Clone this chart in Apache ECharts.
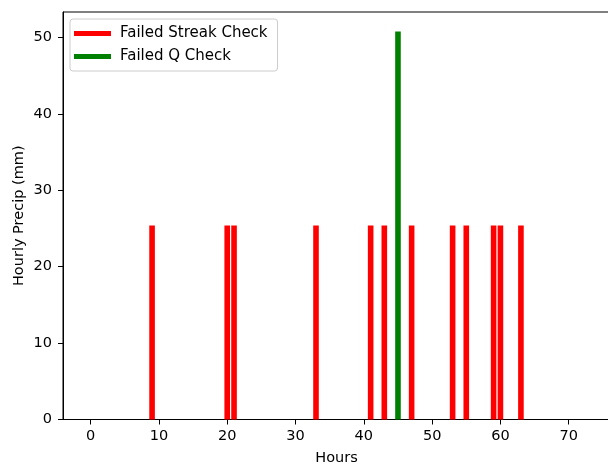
<!DOCTYPE html>
<html>
<head>
<meta charset="utf-8">
<script src="https://cdn.jsdelivr.net/npm/echarts@6/dist/echarts.min.js"></script>
<style>html,body{margin:0;padding:0;background:#fff}#c{width:608px;height:463px}</style>
</head>
<body>
<div id="c"></div>
<script>
const streakHours = [9, 20, 21, 33, 41, 43, 47, 53, 55, 59, 60, 63];
const streakValues = [25.4, 25.4, 25.4, 25.4, 25.4, 25.4, 25.4, 25.4, 25.4, 25.4, 25.4, 25.4];
const qHours = [45];
const qValues = [50.8];
const xTicks = [0, 10, 20, 30, 40, 50, 60, 70];
const yTicks = [0, 10, 20, 30, 40, 50];

const font = 'DejaVu Sans';
const fs = 14.5;
const chart = echarts.init(document.getElementById('c'), null, {renderer: 'canvas'});
chart.setOption({
  animation: false,
  backgroundColor: '#fff',
  grid: {left: 63, top: 12, width: 547, height: 407.5, show: true, borderColor: '#000', borderWidth: 1,
         backgroundColor: 'transparent', outerBoundsMode: 'none', containLabel: false},
  legend: {
    orient: 'vertical', left: 70, top: 19,
    backgroundColor: 'rgba(255,255,255,0.8)',
    borderColor: '#ccc', borderWidth: 1, borderRadius: 3,
    padding: [7, 10, 7, 4],
    itemWidth: 37, itemHeight: 5, itemGap: 8, icon: 'rect',
    textStyle: {fontFamily: font, fontSize: 15, color: '#000', padding: [0, 0, 0, 4]},
    data: ['Failed Streak Check', 'Failed Q Check']
  },
  xAxis: {
    type: 'value', min: -4.04, max: 76.04,
    name: 'Hours', nameLocation: 'middle', nameGap: 31, nameMoveOverlap: false,
    nameTextStyle: {fontFamily: font, fontSize: fs, color: '#000'},
    axisLine: {show: true, onZero: false, lineStyle: {color: '#000', width: 1}},
    axisTick: {show: true, inside: false, length: 5, lineStyle: {color: '#000'}, customValues: xTicks},
    axisLabel: {fontFamily: font, fontSize: fs, color: '#000', margin: 9, customValues: xTicks},
    splitLine: {show: false}
  },
  yAxis: {
    type: 'value', min: 0, max: 53.34,
    name: 'Hourly Precip (mm)', nameLocation: 'middle', nameGap: 36, nameRotate: 90, nameMoveOverlap: false,
    nameTextStyle: {fontFamily: font, fontSize: fs, color: '#000'},
    axisLine: {show: true, onZero: false, lineStyle: {color: '#000', width: 1}},
    axisTick: {show: true, inside: false, length: 5, lineStyle: {color: '#000'}, customValues: yTicks},
    axisLabel: {fontFamily: font, fontSize: fs, color: '#000', margin: 11, customValues: yTicks},
    splitLine: {show: false}
  },
  series: [
    {
      name: 'Failed Streak Check', type: 'bar', barWidth: 5.6, barGap: '-100%',
      itemStyle: {color: '#ff0000'},
      data: streakHours.map((h, i) => [h, streakValues[i]])
    },
    {
      name: 'Failed Q Check', type: 'bar', barWidth: 5.6, barGap: '-100%',
      itemStyle: {color: '#008000'},
      data: qHours.map((h, i) => [h, qValues[i]])
    }
  ]
});
</script>
</body>
</html>
